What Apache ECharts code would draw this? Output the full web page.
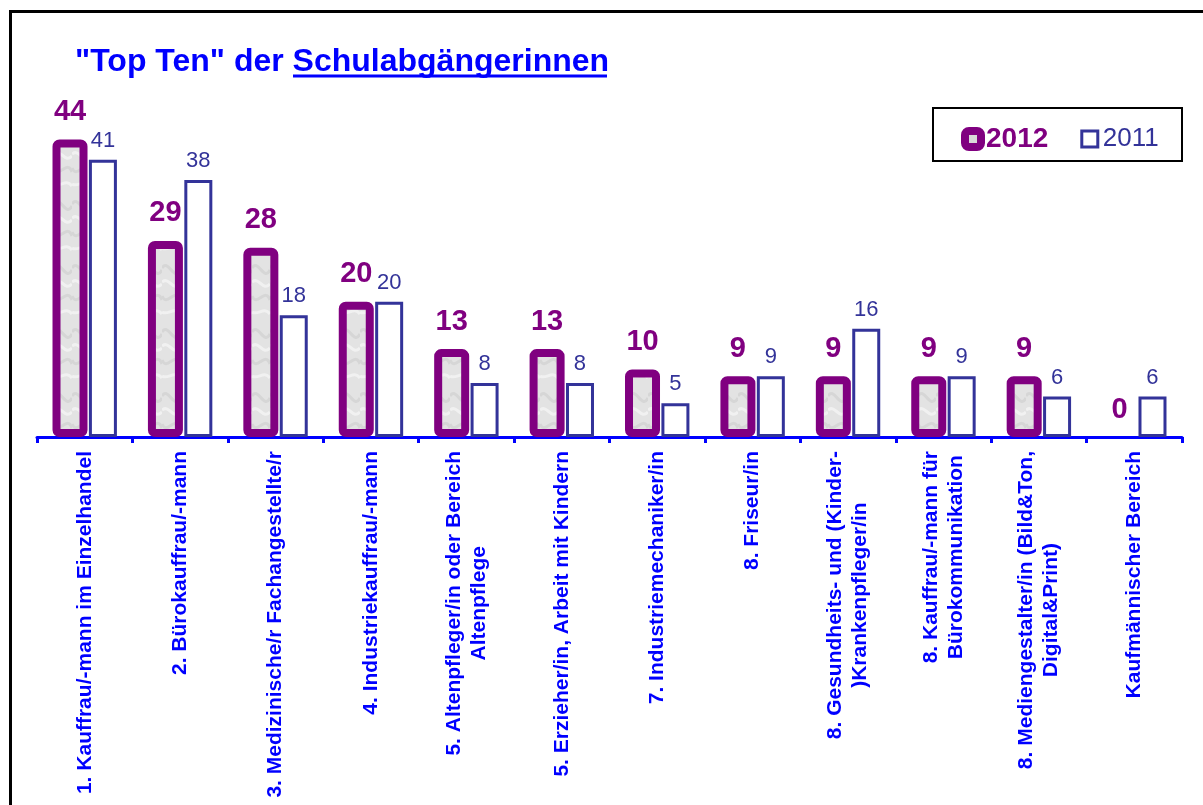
<!DOCTYPE html>
<html lang="de">
<head>
    <meta charset="UTF-8">
    <title>Top Ten der Schulabgängerinnen</title>
    <script src="https://cdn.jsdelivr.net/npm/echarts@6/dist/echarts.min.js"></script>
    <style>
        html, body { margin: 0; padding: 0; background: #fff; }
    </style>
</head>
<body>
    <div id="main" style="width: 1203px;height:805px;"></div>
    <script type="text/javascript">
        var categories = [
            '1. Kauffrau/-mann im Einzelhandel',
            '2. Bürokauffrau/-mann',
            '3. Medizinische/r Fachangestellte/r',
            '4. Industriekauffrau/-mann',
            '5. Altenpfleger/in oder Bereich\nAltenpflege',
            '5. Erzieher/in, Arbeit mit Kindern',
            '7. Industriemechaniker/in',
            '8. Friseur/in',
            '8. Gesundheits- und (Kinder-\n)Krankenpfleger/in',
            '8. Kauffrau/-mann für\nBürokommunikation',
            '8. Mediengestalter/in (Bild&Ton,\nDigital&Print)',
            'Kaufmännischer Bereich'
        ];
        var values2012 = [44, 29, 28, 20, 13, 13, 10, 9, 9, 9, 9, 0];
        var values2011 = [41, 38, 18, 20, 8, 8, 5, 9, 16, 9, 6, 6];

        var FONT = '"Liberation Sans", Arial, sans-serif';

        // grey "marble" fill of the 2012 bars
        var tex = document.createElement('canvas');
        tex.width = 18;
        tex.height = 64;
        var ctx = tex.getContext('2d');
        ctx.fillStyle = '#e3e3e3';
        ctx.fillRect(0, 0, 18, 64);
        ctx.strokeStyle = 'rgba(170,170,170,0.22)';
        ctx.lineWidth = 3;
        ctx.beginPath();
        ctx.moveTo(0, 12); ctx.bezierCurveTo(6, 2, 12, 26, 18, 14);
        ctx.moveTo(0, 40); ctx.bezierCurveTo(5, 52, 13, 30, 18, 44);
        ctx.stroke();
        ctx.strokeStyle = 'rgba(255,255,255,0.5)';
        ctx.beginPath();
        ctx.moveTo(0, 26); ctx.bezierCurveTo(7, 20, 11, 36, 18, 28);
        ctx.moveTo(0, 56); ctx.bezierCurveTo(6, 60, 12, 50, 18, 58);
        ctx.stroke();

        // a 0 bar must not show its thick border
        var data2012 = values2012.map(function (v) {
            return v === 0 ? { value: v, itemStyle: { borderWidth: 0 } } : v;
        });

        var myChart = echarts.init(document.getElementById('main'));

        var option = {
            animation: false,
            backgroundColor: '#fff',
            title: {
                text: '"Top Ten" der Schulabgängerinnen',
                left: 75,
                top: 46,
                padding: 0,
                textStyle: {
                    color: '#0000ff',
                    fontSize: 32,
                    fontWeight: 'bold',
                    fontFamily: FONT
                }
            },
            legend: {
                left: 956,
                top: 120,
                itemGap: 32,
                itemWidth: 16,
                itemHeight: 16,
                data: [
                    {
                        name: '2012',
                        icon: 'roundRect',
                        itemStyle: { color: '#d9d9d9', borderColor: '#800080', borderWidth: 8 },
                        textStyle: { color: '#800080', fontSize: 28, fontWeight: 'bold', fontFamily: FONT }
                    },
                    {
                        name: '2011',
                        icon: 'rect',
                        itemStyle: { color: '#fff', borderColor: '#333399', borderWidth: 3 },
                        textStyle: { color: '#333399', fontSize: 26, fontFamily: FONT }
                    }
                ]
            },
            graphic: [
                {
                    type: 'rect',
                    silent: true,
                    shape: { x: 10.5, y: 11.5, width: 1400, height: 1000 },
                    style: { fill: 'none', stroke: '#000', lineWidth: 3 }
                },
                {
                    type: 'rect',
                    silent: true,
                    z: -1,
                    shape: { x: 933, y: 108, width: 249, height: 53 },
                    style: { fill: '#fff', stroke: '#000', lineWidth: 2 }
                },
                {
                    type: 'line',
                    silent: true,
                    shape: { x1: 293, y1: 76, x2: 607, y2: 76 },
                    style: { stroke: '#0000ff', lineWidth: 3 }
                }
            ],
            grid: {
                left: 37,
                right: 21,
                top: 99,
                bottom: 368
            },
            xAxis: {
                type: 'category',
                data: categories,
                axisLine: {
                    lineStyle: { color: '#0000ff', width: 3 }
                },
                axisTick: {
                    show: true,
                    length: 6,
                    lineStyle: { color: '#0000ff', width: 3 }
                },
                axisLabel: {
                    interval: 0,
                    rotate: 90,
                    margin: 14,
                    color: '#0000ff',
                    fontSize: 21,
                    fontWeight: 'bold',
                    fontFamily: FONT,
                    formatter: function (v) {
                        return v.split('\n').map(function (line) {
                            return '{c|' + line + '}';
                        }).join('\n');
                    },
                    rich: {
                        c: {
                            align: 'center',
                            color: '#0000ff',
                            fontSize: 21,
                            fontWeight: 'bold',
                            fontFamily: FONT,
                            lineHeight: 25
                        }
                    }
                }
            },
            yAxis: {
                type: 'value',
                min: 0,
                max: 50,
                show: false,
                splitLine: { show: false }
            },
            series: [
                {
                    name: '2012',
                    type: 'bar',
                    data: data2012,
                    barWidth: 35,
                    barGap: '4%',
                    itemStyle: {
                        color: { image: tex, repeat: 'repeat' },
                        borderColor: '#800080',
                        borderWidth: 8,
                        borderRadius: 3
                    },
                    label: {
                        show: true,
                        position: 'top',
                        distance: 13,
                        color: '#800080',
                        fontSize: 29,
                        fontWeight: 'bold',
                        fontFamily: FONT
                    }
                },
                {
                    name: '2011',
                    type: 'bar',
                    data: values2011,
                    barWidth: 28,
                    barGap: '4%',
                    itemStyle: {
                        color: '#fff',
                        borderColor: '#333399',
                        borderWidth: 3
                    },
                    label: {
                        show: true,
                        position: 'top',
                        distance: 8,
                        color: '#333399',
                        fontSize: 22,
                        fontFamily: FONT
                    }
                }
            ]
        };

        myChart.setOption(option);
    </script>
</body>
</html>
